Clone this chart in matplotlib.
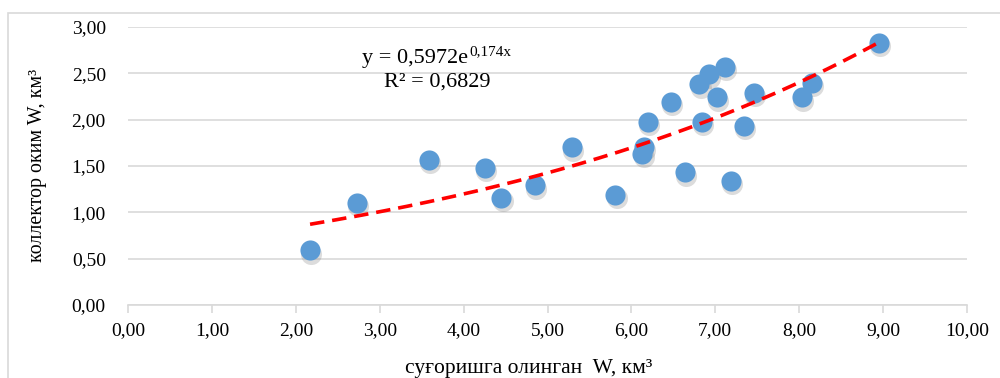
import numpy as np
import matplotlib.pyplot as plt
from matplotlib.patches import Rectangle

plt.rcParams['font.family'] = ['Liberation Serif', 'DejaVu Serif']

# irrigation water taken (x) vs collector outflow (y), km3
x_vals = [2.17, 2.73, 3.59, 4.25, 4.45, 4.85, 5.29, 5.81, 6.13, 6.15, 6.20, 6.47,
          6.64, 6.81, 6.92, 6.84, 7.02, 7.11, 7.19, 7.34, 7.46, 8.03, 8.15, 8.95]
y_vals = [0.59, 1.10, 1.57, 1.48, 1.16, 1.29, 1.70, 1.19, 1.63, 1.71, 1.98, 2.19,
          1.43, 2.38, 2.49, 1.98, 2.24, 2.57, 1.34, 1.93, 2.29, 2.24, 2.40, 2.83]
x_ticks = [0, 1, 2, 3, 4, 5, 6, 7, 8, 9, 10]
y_ticks = [0, 0.5, 1.0, 1.5, 2.0, 2.5, 3.0]
fit_a, fit_b = 0.5972, 0.174
eq_main, eq_exp, eq_r2 = 'y = 0,5972e', '0,174x', 'R² = 0,6829'

W, H = 1000, 378


def px(x, y):
    # pixel position -> figure fraction
    return x / W, 1 - y / H


fig = plt.figure(figsize=(10, 3.78), dpi=100)
ax = fig.add_axes([0.128, 1 - 305 / H, 0.839, 278 / H])

# outer chart frame
fig.patches.append(Rectangle((0.008, -0.1), 1.1, 1 - 13 / H + 0.1, transform=fig.transFigure,
                             fill=False, edgecolor='#d9d9d9', linewidth=1.2))

x = np.array(x_vals)
y = np.array(y_vals)
# soft shadow under markers
ax.scatter(x + 0.015, y - 0.035, s=230, color='#8c8c8c', alpha=0.3, linewidths=0, zorder=3)
ax.scatter(x, y, s=210, color='#5b9bd5', linewidths=0, zorder=4)

xf = np.linspace(x.min(), x.max(), 200)
ax.plot(xf, fit_a * np.exp(fit_b * xf), color='#ff0000', lw=2.6, dashes=(4, 2.2), zorder=5)

fig.text(*px(468, 63), eq_main, fontsize=16, ha='right', va='baseline')
fig.text(*px(469, 55), eq_exp, fontsize=11, ha='left', va='baseline')
fig.text(*px(437, 87), eq_r2, fontsize=16, ha='center', va='baseline')

ax.set_xlim(0, 10)
ax.set_ylim(0, 3)
ax.set_xticks(x_ticks)
ax.set_yticks(y_ticks)
ax.set_xticklabels([f'{v:.2f}'.replace('.', ',') for v in x_ticks], fontsize=14)
ax.set_yticklabels([f'{v:.2f}'.replace('.', ',') for v in y_ticks], fontsize=14)
ax.grid(axis='y', color='#d9d9d9', lw=1.2)
ax.set_axisbelow(True)
for s in ['top', 'right', 'left']:
    ax.spines[s].set_visible(False)
ax.spines['bottom'].set_color('#d9d9d9')
ax.spines['bottom'].set_linewidth(1.2)
ax.tick_params(axis='x', length=6, color='#d9d9d9', width=1.2, pad=6)
ax.tick_params(axis='y', length=0, pad=16)

fig.text(*px(529, 368), 'суғоришга олинган  W, км³', fontsize=15.5, ha='center', va='center')
fig.text(*px(38, 165), 'коллектор оким W, км³', fontsize=14.3, ha='center', va='center',
         rotation=90)

fig.savefig('out.png', dpi=100)
